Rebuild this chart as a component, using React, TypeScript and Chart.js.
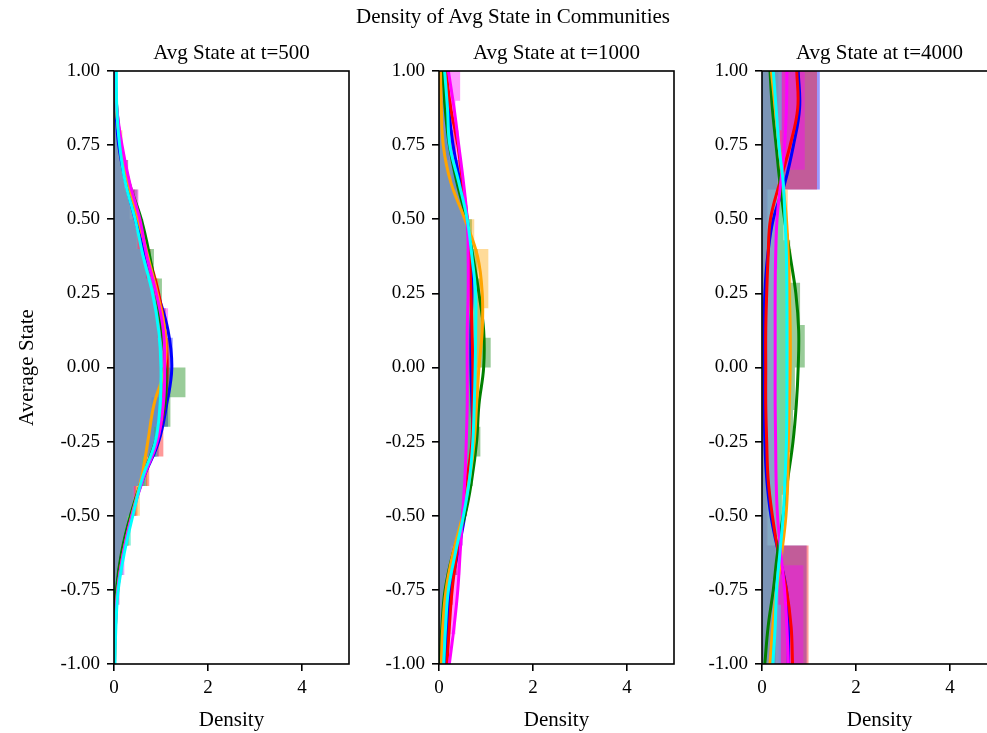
import React, { useEffect, useRef } from "react";
import { Chart, registerables } from "chart.js";

Chart.register(...registerables);

const FONT = "'Liberation Serif', 'Times New Roman', Times, serif";

const suptitle = "Density of Avg State in Communities";
const panelTitles = ["Avg State at t=500", "Avg State at t=1000", "Avg State at t=4000"];
const xLabel = "Density";
const yLabel = "Average State";

const communities = ["0", "1", "2", "3", "4", "5"];
const colorsRGB = ["0,0,255", "255,0,0", "0,128,0", "255,165,0", "255,0,255", "0,255,255"];

const xTicks = [0, 2, 4];
const yTicks = [-1, -0.75, -0.5, -0.25, 0, 0.25, 0.5, 0.75, 1];

// y positions of KDE curve samples
const kdeY = [-1, -0.875, -0.75, -0.625, -0.5, -0.375, -0.25, -0.125, 0, 0.125, 0.25, 0.375, 0.5, 0.625, 0.75, 0.875, 1];

// histogram bin edges
const edgesTenth = [-1, -0.9, -0.8, -0.7, -0.6, -0.5, -0.4, -0.3, -0.2, -0.1, 0, 0.1, 0.2, 0.3, 0.4, 0.5, 0.6, 0.7, 0.8, 0.9, 1];
const edgesFifth = [-1, -0.6, -0.2, 0.2, 0.6, 1];
const edgesSixth = [-1, -0.667, -0.333, 0, 0.333, 0.667, 1];
const edgesSeventh = [-1, -0.857, -0.714, -0.571, -0.429, -0.286, -0.143, 0, 0.143, 0.286, 0.429, 0.571, 0.714, 0.857, 1];
const edgesFive = [-1, -0.8, -0.6, -0.4, -0.2, 0, 0.2, 0.4, 0.6, 0.8, 1];

// ---- t=500 ----
const hist500Blue = [0.0, 0.03, 0.08, 0.15, 0.28, 0.47, 0.7, 0.95, 1.15, 1.2, 1.25, 1.1, 0.92, 0.7, 0.48, 0.33, 0.22, 0.1, 0.05, 0.02];
const hist500Red = [0.02, 0.05, 0.06, 0.18, 0.32, 0.5, 0.75, 1.05, 0.98, 1.05, 1.18, 1.02, 0.85, 0.78, 0.62, 0.45, 0.25, 0.15, 0.05, 0.03];
const hist500Green = [0.0, 0.04, 0.05, 0.14, 0.3, 0.4, 0.66, 0.9, 1.2, 1.52, 1.0, 0.95, 1.02, 0.85, 0.62, 0.5, 0.3, 0.12, 0.04, 0.0];
const hist500Orange = [0.02, 0.03, 0.1, 0.18, 0.35, 0.55, 0.72, 0.75, 0.8, 1.08, 1.15, 1.1, 0.95, 0.7, 0.55, 0.4, 0.28, 0.18, 0.08, 0.02];
const hist500Magenta = [0.0, 0.05, 0.12, 0.22, 0.28, 0.45, 0.6, 0.85, 0.95, 1.1, 1.08, 1.15, 0.88, 0.75, 0.6, 0.52, 0.3, 0.12, 0.08, 0.02];
const hist500Cyan = [0.01, 0.03, 0.09, 0.2, 0.36, 0.42, 0.68, 0.92, 1.05, 1.0, 1.08, 0.92, 0.85, 0.68, 0.5, 0.4, 0.24, 0.14, 0.06, 0.04];

const kde500Blue = [0.0, 0.02, 0.06, 0.17, 0.36, 0.62, 0.95, 1.12, 1.23, 1.15, 0.93, 0.68, 0.45, 0.25, 0.1, 0.04, 0.01];
const kde500Red = [0.01, 0.03, 0.07, 0.2, 0.38, 0.6, 0.9, 1.08, 1.13, 1.08, 0.95, 0.74, 0.52, 0.3, 0.14, 0.05, 0.02];
const kde500Green = [0.0, 0.01, 0.05, 0.16, 0.35, 0.6, 0.88, 1.08, 1.1, 1.02, 0.9, 0.76, 0.58, 0.32, 0.15, 0.06, 0.02];
const kde500Orange = [0.01, 0.03, 0.08, 0.2, 0.38, 0.58, 0.72, 0.85, 1.08, 1.08, 0.92, 0.72, 0.52, 0.3, 0.14, 0.05, 0.02];
const kde500Magenta = [0.0, 0.03, 0.08, 0.2, 0.38, 0.62, 0.92, 1.05, 1.08, 1.05, 0.9, 0.7, 0.55, 0.33, 0.17, 0.06, 0.02];
const kde500Cyan = [0.02, 0.04, 0.09, 0.22, 0.4, 0.6, 0.88, 0.98, 1.0, 0.95, 0.82, 0.62, 0.45, 0.24, 0.12, 0.06, 0.05];

// ---- t=1000 ----
const hist1000Blue = [0.12, 0.22, 0.28, 0.38, 0.5, 0.58, 0.65, 0.7, 0.72, 0.68, 0.7, 0.72, 0.7, 0.66, 0.62, 0.52, 0.4, 0.3, 0.22, 0.12];
const hist1000Red = [0.18, 0.24, 0.3, 0.4, 0.48, 0.55, 0.62, 0.7, 0.68, 0.72, 0.74, 0.7, 0.68, 0.65, 0.58, 0.5, 0.44, 0.36, 0.28, 0.2];
const hist1000Green = [0.02, 0.06, 0.12, 0.25, 0.45, 0.58, 0.72, 0.88, 0.85, 0.82, 1.1, 0.9, 0.88, 0.82, 0.7, 0.55, 0.38, 0.22, 0.1, 0.05];
const hist1000Orange = [0.05, 0.08, 0.15, 0.3, 0.48, 0.6, 0.7, 0.76, 0.8, 0.86, 0.9, 0.92, 1.05, 1.05, 0.75, 0.52, 0.28, 0.12, 0.06, 0.03];
const hist1000Magenta = [0.25, 0.35, 0.4, 0.45, 0.5, 0.52, 0.55, 0.58, 0.6, 0.58, 0.6, 0.62, 0.6, 0.62, 0.6, 0.55, 0.48, 0.42, 0.35, 0.45];
const hist1000Cyan = [0.1, 0.15, 0.22, 0.35, 0.48, 0.56, 0.65, 0.72, 0.74, 0.76, 0.78, 0.76, 0.78, 0.75, 0.66, 0.56, 0.4, 0.25, 0.18, 0.12];

const kde1000Blue = [0.12, 0.18, 0.25, 0.4, 0.55, 0.65, 0.72, 0.7, 0.68, 0.68, 0.7, 0.68, 0.6, 0.45, 0.3, 0.2, 0.1];
const kde1000Red = [0.17, 0.22, 0.28, 0.38, 0.5, 0.6, 0.7, 0.72, 0.72, 0.7, 0.68, 0.65, 0.6, 0.5, 0.4, 0.25, 0.15];
const kde1000Green = [0.02, 0.06, 0.13, 0.3, 0.55, 0.7, 0.8, 0.85, 0.95, 0.95, 0.85, 0.72, 0.58, 0.38, 0.22, 0.13, 0.08];
const kde1000Orange = [0.05, 0.08, 0.15, 0.3, 0.5, 0.65, 0.75, 0.8, 0.85, 0.92, 0.92, 0.82, 0.55, 0.25, 0.09, 0.05, 0.03];
const kde1000Magenta = [0.22, 0.32, 0.4, 0.45, 0.5, 0.55, 0.58, 0.6, 0.6, 0.6, 0.62, 0.62, 0.6, 0.52, 0.42, 0.32, 0.2];
const kde1000Cyan = [0.1, 0.14, 0.2, 0.35, 0.52, 0.65, 0.72, 0.75, 0.77, 0.78, 0.78, 0.7, 0.6, 0.42, 0.23, 0.18, 0.12];

// ---- t=4000 ----
const hist4000Blue = [0.95, 0.1, 0.05, 0.12, 1.23];
const hist4000Red = [0.99, 0.12, 0.06, 0.1, 1.17];
const hist4000Green = [0.3, 0.2, 0.28, 0.42, 0.56, 0.66, 0.7, 0.91, 0.81, 0.6, 0.45, 0.32, 0.3, 0.35];
const hist4000Orange = [0.35, 0.32, 0.45, 0.52, 0.6, 0.63, 0.62, 0.55, 0.42, 0.4];
const hist4000Magenta = [0.88, 0.32, 0.28, 0.28, 0.33, 0.91];
const hist4000Cyan = [0.4, 0.35, 0.42, 0.5, 0.52, 0.54, 0.52, 0.48, 0.38, 0.42];

const kde4000Blue = [0.56, 0.56, 0.52, 0.35, 0.19, 0.1, 0.06, 0.05, 0.05, 0.05, 0.06, 0.12, 0.24, 0.49, 0.67, 0.8, 0.77];
const kde4000Red = [0.65, 0.62, 0.52, 0.35, 0.22, 0.13, 0.1, 0.08, 0.08, 0.08, 0.1, 0.13, 0.18, 0.38, 0.6, 0.76, 0.74];
const kde4000Green = [0.06, 0.13, 0.24, 0.33, 0.45, 0.55, 0.66, 0.73, 0.77, 0.78, 0.72, 0.6, 0.48, 0.38, 0.3, 0.22, 0.17];
const kde4000Orange = [0.17, 0.23, 0.31, 0.42, 0.51, 0.55, 0.56, 0.58, 0.6, 0.6, 0.58, 0.56, 0.52, 0.44, 0.36, 0.28, 0.2];
const kde4000Magenta = [0.56, 0.53, 0.48, 0.4, 0.33, 0.3, 0.29, 0.28, 0.28, 0.28, 0.28, 0.29, 0.32, 0.4, 0.48, 0.52, 0.53];
const kde4000Cyan = [0.23, 0.28, 0.31, 0.38, 0.45, 0.49, 0.52, 0.53, 0.53, 0.53, 0.53, 0.52, 0.49, 0.45, 0.36, 0.3, 0.24];

type Panel = {
  title: string;
  left: number;
  showYTitle: boolean;
  edges: number[][];
  hist: number[][];
  kde: number[][];
};

const panels: Panel[] = [
  {
    title: panelTitles[0],
    left: 0,
    showYTitle: true,
    edges: [edgesTenth, edgesTenth, edgesTenth, edgesTenth, edgesTenth, edgesTenth],
    hist: [hist500Blue, hist500Red, hist500Green, hist500Orange, hist500Magenta, hist500Cyan],
    kde: [kde500Blue, kde500Red, kde500Green, kde500Orange, kde500Magenta, kde500Cyan],
  },
  {
    title: panelTitles[1],
    left: 325,
    showYTitle: false,
    edges: [edgesTenth, edgesTenth, edgesTenth, edgesTenth, edgesTenth, edgesTenth],
    hist: [hist1000Blue, hist1000Red, hist1000Green, hist1000Orange, hist1000Magenta, hist1000Cyan],
    kde: [kde1000Blue, kde1000Red, kde1000Green, kde1000Orange, kde1000Magenta, kde1000Cyan],
  },
  {
    title: panelTitles[2],
    left: 648,
    showYTitle: false,
    edges: [edgesFifth, edgesFifth, edgesSeventh, edgesFive, edgesSixth, edgesFive],
    hist: [hist4000Blue, hist4000Red, hist4000Green, hist4000Orange, hist4000Magenta, hist4000Cyan],
    kde: [kde4000Blue, kde4000Red, kde4000Green, kde4000Orange, kde4000Magenta, kde4000Cyan],
  },
];

function histPoints(edges: number[], dens: number[]) {
  const pts: { x: number; y: number }[] = [{ x: 0, y: edges[0] }];
  dens.forEach((d, i) => {
    pts.push({ x: d, y: edges[i] }, { x: d, y: edges[i + 1] });
  });
  pts.push({ x: 0, y: edges[edges.length - 1] });
  return pts;
}

const framePlugin = {
  id: "frame",
  afterDatasetsDraw(chart: any) {
    const { ctx, chartArea: a } = chart;
    ctx.save();
    ctx.strokeStyle = "#000";
    ctx.lineWidth = 1.6;
    ctx.strokeRect(a.left, a.top, a.right - a.left, a.bottom - a.top);
    ctx.restore();
  },
};

function PanelChart({ panel }: { panel: Panel }) {
  const ref = useRef<HTMLCanvasElement | null>(null);
  useEffect(() => {
    if (!ref.current) return;
    const datasets: any[] = [];
    communities.forEach((c, i) => {
      datasets.push({
        label: "hist " + c,
        data: histPoints(panel.edges[i], panel.hist[i]),
        showLine: true,
        fill: "origin",
        backgroundColor: `rgba(${colorsRGB[i]},0.4)`,
        borderColor: "rgba(0,0,0,0)",
        borderWidth: 0,
        pointRadius: 0,
        tension: 0,
        order: 20 - i,
      });
    });
    communities.forEach((c, i) => {
      datasets.push({
        label: "kde " + c,
        data: kdeY.map((y, j) => ({ x: panel.kde[i][j], y })),
        showLine: true,
        fill: false,
        borderColor: `rgb(${colorsRGB[i]})`,
        borderWidth: 3,
        pointRadius: 0,
        tension: 0.4,
        order: 10 - i,
      });
    });
    const gridOpts = {
      drawOnChartArea: false,
      drawTicks: true,
      tickLength: 7,
      color: "#000",
      lineWidth: 1.6,
    };
    const chart = new Chart(ref.current, {
      type: "scatter",
      data: { datasets },
      plugins: [framePlugin],
      options: {
        indexAxis: "y",
        animation: false,
        responsive: false,
        devicePixelRatio: 1,
        layout: { padding: { top: 71, left: 0, right: 11, bottom: 0 } },
        plugins: { legend: { display: false }, tooltip: { enabled: false }, title: { display: false } },
        scales: {
          x: {
            type: "linear",
            min: 0,
            max: 5,
            afterBuildTicks: (s: any) => {
              s.ticks = xTicks.map((v) => ({ value: v }));
            },
            afterFit: (s: any) => {
              s.height = 69;
            },
            grid: gridOpts,
            border: { display: false },
            ticks: { color: "#000", font: { family: FONT, size: 19 }, padding: 6, maxRotation: 0 },
            title: {
              display: true,
              text: xLabel,
              color: "#000",
              font: { family: FONT, size: 21 },
              padding: { top: 0, bottom: 0 },
            },
          },
          y: {
            type: "linear",
            min: -1,
            max: 1,
            afterBuildTicks: (s: any) => {
              s.ticks = yTicks.map((v) => ({ value: v }));
            },
            afterFit: (s: any) => {
              s.width = 114;
            },
            grid: gridOpts,
            border: { display: false },
            ticks: {
              color: "#000",
              font: { family: FONT, size: 19 },
              padding: 7,
              callback: (v: any) => Number(v).toFixed(2),
            },
            title: {
              display: panel.showYTitle,
              text: yLabel,
              color: "#000",
              font: { family: FONT, size: 21 },
              padding: { top: 15, bottom: 0 },
            },
          },
        },
      } as any,
    });
    return () => chart.destroy();
  }, [panel]);
  return (
    <canvas
      ref={ref}
      width={360}
      height={733}
      style={{ position: "absolute", left: panel.left, top: 0, width: 360, height: 733 }}
    />
  );
}

const textStyle = (cx: number, cy: number, size: number): React.CSSProperties => ({
  position: "absolute",
  left: cx,
  top: cy,
  transform: "translate(-50%, -50%)",
  fontFamily: FONT,
  fontSize: size,
  lineHeight: 1,
  whiteSpace: "nowrap",
  color: "#000",
});

export default function App() {
  return (
    <div
      style={{
        position: "absolute",
        left: 0,
        top: 0,
        width: 987,
        height: 733,
        overflow: "hidden",
        background: "#fff",
      }}
    >
      {panels.map((p, i) => (
        <PanelChart key={i} panel={p} />
      ))}
      <div style={textStyle(513, 16, 21)}>{suptitle}</div>
      <div style={textStyle(231.5, 52, 21)}>{panels[0].title}</div>
      <div style={textStyle(556.5, 52, 21)}>{panels[1].title}</div>
      <div style={textStyle(879.5, 52, 21)}>{panels[2].title}</div>
    </div>
  );
}
